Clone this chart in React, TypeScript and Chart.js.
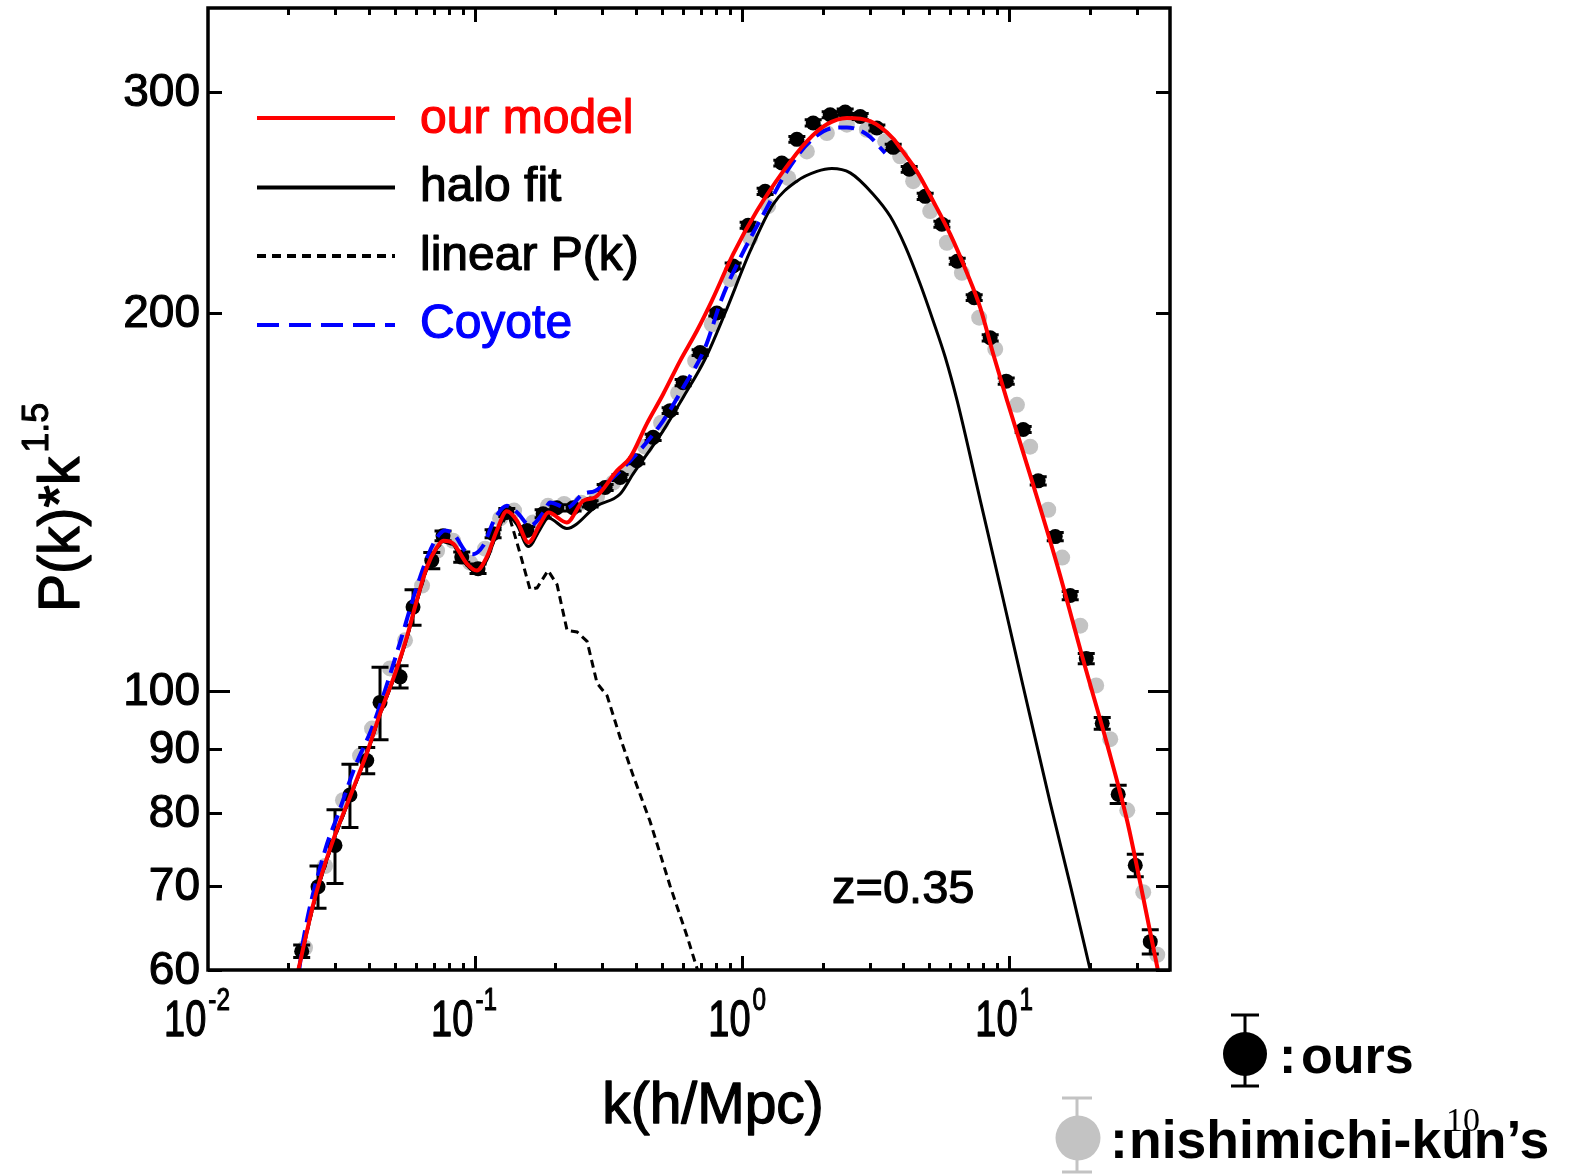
import React, { useEffect, useRef } from "react";
import { Chart, registerables } from "chart.js";

Chart.register(...registerables);

// ---------------- data ----------------
// our model (red)
const modelK = [0.02179, 0.02474, 0.02627, 0.02938, 0.034, 0.0394, 0.04407, 0.05017, 0.05548, 0.06047, 0.06594, 0.07188, 0.07607, 0.08294, 0.09309, 0.1015, 0.1106, 0.1206, 0.1315, 0.1433, 0.1584, 0.1751, 0.1881, 0.2205, 0.2539, 0.2814, 0.3394, 0.3806, 0.4395, 0.5059, 0.5858, 0.6765, 0.77, 0.9254, 1.135, 1.424, 1.747, 2.076, 2.467, 3.016, 3.678, 3.907, 4.511, 5.193, 6.012, 6.943, 7.788, 8.712, 9.829, 12.3, 15.13, 18.93, 23.28, 27.67, 31.76, 36.14];
const modelP = [60.0, 67.6, 70.8, 76.1, 82.4, 89.4, 96.0, 103.3, 110.4, 118.1, 125.5, 130.2, 131.8, 131.1, 126.4, 124.8, 127.9, 134.3, 139.1, 136.8, 131.4, 135.9, 138.8, 136.3, 141.8, 142.7, 149.8, 153.5, 163.3, 172.4, 183.3, 193.6, 204.6, 222.9, 241.2, 259.4, 274.1, 282.8, 286.1, 284.4, 275.5, 270.8, 259.4, 245.6, 231.2, 215.4, 202.1, 185.6, 170.3, 146.0, 126.0, 105.9, 90.7, 78.8, 68.5, 59.8];

// halo fit (black solid)
const haloK = [0.02179, 0.02474, 0.02627, 0.02938, 0.034, 0.0394, 0.04407, 0.05017, 0.05548, 0.06047, 0.06594, 0.07188, 0.07607, 0.08294, 0.09309, 0.1015, 0.1106, 0.1206, 0.1315, 0.1433, 0.1584, 0.1751, 0.1881, 0.2205, 0.2856, 0.3492, 0.3907, 0.5059, 0.6012, 0.7268, 0.8636, 1.0715, 1.306, 1.603, 1.905, 2.168, 2.539, 3.094, 3.584, 4.078, 4.642, 5.193, 5.758, 6.387, 7.788, 9.495, 11.28, 14.24, 17.07, 20.11];
const haloP = [60.0, 67.4, 70.6, 75.9, 82.2, 89.2, 95.8, 103.0, 110.1, 117.8, 125.2, 130.0, 131.6, 130.8, 126.0, 124.3, 127.2, 133.6, 138.2, 135.8, 130.4, 134.6, 137.4, 134.8, 140.5, 143.6, 149.0, 161.2, 171.4, 183.9, 200.1, 224.1, 244.2, 254.8, 259.4, 260.8, 258.7, 248.8, 238.9, 226.2, 211.0, 197.2, 184.6, 170.3, 142.0, 118.4, 100.9, 81.5, 69.6, 60.0];

// linear P(k) (black dotted)
const linearK = [0.02179, 0.02474, 0.02627, 0.02938, 0.034, 0.0394, 0.04407, 0.05017, 0.05548, 0.06047, 0.06594, 0.07188, 0.07607, 0.08294, 0.09309, 0.1015, 0.1106, 0.1206, 0.1315, 0.1353, 0.1475, 0.1607, 0.1707, 0.1876, 0.2028, 0.2211, 0.241, 0.2627, 0.2863, 0.3122, 0.3492, 0.3907, 0.452, 0.5374, 0.6223, 0.684];
const linearP = [60.0, 67.4, 70.6, 75.9, 82.2, 89.2, 95.8, 103.0, 110.1, 117.8, 125.2, 130.0, 131.6, 130.8, 126.0, 124.3, 127.2, 133.6, 138.2, 137.1, 128.7, 120.5, 120.9, 124.8, 121.6, 111.8, 111.5, 109.6, 101.5, 99.2, 91.9, 85.7, 78.8, 70.0, 63.8, 59.8];

// Coyote (blue dashed)
const coyoteK = [0.02195, 0.02275, 0.02742, 0.03076, 0.03553, 0.04102, 0.04601, 0.05238, 0.0596, 0.06668, 0.07206, 0.0772, 0.08417, 0.09174, 0.09829, 0.1072, 0.1188, 0.1315, 0.1437, 0.1607, 0.1803, 0.191, 0.2205, 0.2539, 0.2814, 0.3288, 0.4033, 0.5059, 0.6012, 0.7268, 0.8417, 1.0, 1.219, 1.47, 1.797, 2.192, 2.467, 2.931, 3.433];
const coyoteP = [60.0, 63.4, 74.7, 79.9, 87.1, 93.4, 100.2, 109.4, 119.9, 128.3, 132.6, 134.3, 133.0, 129.4, 128.6, 130.6, 137.3, 140.5, 138.8, 135.5, 138.8, 141.4, 140.0, 143.6, 144.4, 148.0, 154.6, 164.2, 174.5, 187.8, 205.8, 222.9, 241.2, 259.4, 274.1, 280.9, 281.2, 277.6, 268.3];

// ours (black points with error bars)
const oursK = [0.02243, 0.02582, 0.02989, 0.034, 0.0393, 0.04407, 0.05238, 0.05858, 0.06884, 0.07586, 0.08915, 0.1026, 0.1168, 0.1315, 0.1562, 0.1798, 0.2023, 0.2328, 0.2696, 0.3069, 0.3492, 0.4033, 0.4642, 0.5374, 0.6012, 0.696, 0.8037, 0.9254, 1.053, 1.219, 1.408, 1.603, 1.845, 2.136, 2.431, 2.767, 3.195, 3.678, 4.222, 4.846, 5.597, 6.387, 7.393, 8.487, 9.745, 11.28, 12.84, 14.87, 16.92, 19.43, 22.3, 25.59, 29.65, 33.74];
const oursP = [62.1, 69.9, 75.4, 82.7, 88.1, 98.0, 102.7, 116.7, 127.1, 133.0, 127.9, 125.2, 133.5, 138.8, 134.3, 138.5, 140.0, 140.0, 141.0, 145.3, 148.0, 152.6, 159.3, 167.3, 176.1, 186.1, 200.1, 218.1, 235.0, 250.1, 263.4, 275.1, 283.5, 287.8, 289.2, 286.9, 280.9, 271.1, 260.4, 247.8, 235.5, 220.0, 205.8, 191.2, 176.6, 161.6, 147.1, 132.8, 119.2, 106.2, 94.3, 82.8, 72.7, 63.2];
const oursErr = [0.7, 2.7, 5.1, 4.8, 2.1, 6.5, 2.1, 3.8, 1.9, 1.2, 1.2, 1.1, 1.0, 1.0, 1.0, 1.0, 0.8, 0.8, 0.8, 0.8, 0.8, 0.8, 0.9, 0.9, 1.0, 1.0, 1.1, 1.2, 1.3, 1.4, 1.4, 1.5, 1.6, 1.6, 1.6, 1.6, 1.5, 1.5, 1.4, 1.4, 1.3, 1.2, 1.1, 1.1, 1.0, 0.9, 1.1, 1.0, 0.9, 1.0, 1.0, 1.4, 1.5, 1.4];

// nishimichi-kun's (grey points)
const nishiK = [0.02308, 0.02742, 0.03202, 0.0371, 0.04113, 0.04804, 0.05467, 0.06331, 0.07206, 0.08273, 0.09579, 0.109, 0.1241, 0.14, 0.1649, 0.1876, 0.2154, 0.2495, 0.2863, 0.3288, 0.3741, 0.4331, 0.4972, 0.5758, 0.6668, 0.77, 0.9018, 1.0715, 1.251, 1.487, 1.747, 2.076, 2.467, 2.931, 3.433, 3.907, 4.369, 5.06, 5.844, 6.651, 7.72, 8.865, 10.69, 11.98, 14.0, 15.79, 18.45, 21.17, 23.89, 27.67, 31.76, 35.84];
const nishiP = [62.5, 72.6, 81.9, 88.9, 93.4, 104.3, 109.8, 121.4, 129.4, 131.8, 126.6, 129.9, 137.3, 139.3, 136.3, 140.5, 141.0, 141.3, 142.9, 146.6, 150.4, 156.6, 163.6, 172.8, 183.3, 196.0, 212.9, 229.6, 243.4, 256.3, 269.1, 278.3, 282.6, 280.0, 274.1, 266.7, 254.8, 241.2, 227.6, 215.4, 198.4, 187.3, 169.1, 156.6, 139.5, 127.8, 112.8, 101.1, 91.6, 80.4, 69.2, 61.7];

// axes
const xMin = 0.01;
const xMax = 40;
const yMin = 60;
const yMax = 350;
const xTickValues = [0.01, 0.1, 1, 10];
const xTickExps = ["-2", "-1", "0", "1"];
const yTickValues = [60, 70, 80, 90, 100, 200, 300];
const yTickLabels = ["60", "70", "80", "90", "100", "200", "300"];
const yMajorTick = 100;

const legendLabels = ["our model", "halo fit", "linear P(k)", "Coyote"];
const redshiftLabel = "z=0.35";
const xTitle = "k(h/Mpc)";
const yTitle = "P(k)*k";
const yTitleExp = "1.5";
const oursLabel = "ours";
const nishiLabel = "nishimichi-kun\u2019s";
const pageNumber = "10";

// ---------------- styling ----------------
const W = 1569;
const H = 1175;
const SANS = "'Liberation Sans', Arial, Helvetica, sans-serif";
const SERIF = "'Liberation Serif', 'Times New Roman', serif";
const RED = "#ff0000";
const BLUE = "#0000ff";
const GREY = "#c3c3c3";
const OURS_INDEX = 4;

function pts(k: number[], p: number[]) {
  return k.map((x, i) => ({ x, y: p[i] }));
}

function heavyText(ctx: CanvasRenderingContext2D, text: string, x: number, y: number, color: string, lw = 1.1) {
  ctx.fillStyle = color;
  ctx.strokeStyle = color;
  ctx.lineWidth = lw;
  ctx.lineJoin = "round";
  ctx.fillText(text, x, y);
  ctx.strokeText(text, x, y);
}

export default function App() {
  const ref = useRef<HTMLCanvasElement>(null);

  useEffect(() => {
    const canvas = ref.current!;

    const decor = {
      id: "decor",
      beforeDatasetDraw(chart: any, args: any) {
        if (args.index !== OURS_INDEX) return;
        const { ctx, chartArea: a, scales } = chart;
        const xs = scales.x;
        const ys = scales.y;
        ctx.save();
        ctx.beginPath();
        ctx.rect(a.left, a.top, a.right - a.left, a.bottom - a.top);
        ctx.clip();
        ctx.strokeStyle = "#000";
        ctx.lineWidth = 3;
        ctx.beginPath();
        for (let i = 0; i < oursK.length; i++) {
          const px = xs.getPixelForValue(oursK[i]);
          const y1 = ys.getPixelForValue(oursP[i] - oursErr[i]);
          const y2 = ys.getPixelForValue(oursP[i] + oursErr[i]);
          ctx.moveTo(px, y1);
          ctx.lineTo(px, y2);
          ctx.moveTo(px - 8.5, y1);
          ctx.lineTo(px + 8.5, y1);
          ctx.moveTo(px - 8.5, y2);
          ctx.lineTo(px + 8.5, y2);
        }
        ctx.stroke();
        ctx.restore();
      },
      afterDraw(chart: any) {
        const { ctx, chartArea: a, scales } = chart;
        const xs = scales.x;
        const ys = scales.y;
        ctx.save();

        // frame
        ctx.strokeStyle = "#000";
        ctx.lineWidth = 3.5;
        ctx.strokeRect(a.left, a.top, a.right - a.left, a.bottom - a.top);

        // x ticks (inside, bottom and top)
        ctx.lineWidth = 3;
        ctx.beginPath();
        for (const dv of xTickValues) {
          for (let m = 1; m <= 9; m++) {
            const v = m * dv;
            if (v <= xMin || v >= xMax) continue;
            const px = Math.round(xs.getPixelForValue(v)) + 0.5;
            const len = m === 1 ? 14 : 7;
            ctx.moveTo(px, a.bottom);
            ctx.lineTo(px, a.bottom - len);
            ctx.moveTo(px, a.top);
            ctx.lineTo(px, a.top + len);
          }
        }
        // y ticks (inside, left and right)
        for (const v of yTickValues) {
          const py = Math.round(ys.getPixelForValue(v)) + 0.5;
          const len = v === yMajorTick ? 22 : 14;
          ctx.moveTo(a.left, py);
          ctx.lineTo(a.left + len, py);
          ctx.moveTo(a.right, py);
          ctx.lineTo(a.right - len, py);
        }
        ctx.stroke();

        // y tick labels
        ctx.font = `46px ${SANS}`;
        ctx.textAlign = "right";
        ctx.textBaseline = "middle";
        yTickValues.forEach((v, i) => {
          heavyText(ctx, yTickLabels[i], 200, ys.getPixelForValue(v) + 1, "#000");
        });

        // x tick labels 10^n (condensed)
        ctx.textAlign = "left";
        ctx.textBaseline = "alphabetic";
        const sx = 0.76;
        xTickValues.forEach((v, i) => {
          const px = xs.getPixelForValue(v);
          ctx.font = `50px ${SANS}`;
          const wb = ctx.measureText("10").width * sx;
          ctx.font = `32px ${SANS}`;
          const we = ctx.measureText(xTickExps[i]).width * sx;
          const neg = xTickExps[i].startsWith("-");
          const start = px - 5 - (neg ? 6 : 0) - (wb + we + 2) / 2;
          ctx.save();
          ctx.translate(start, 1036);
          ctx.scale(sx, 1);
          ctx.font = `50px ${SANS}`;
          heavyText(ctx, "10", 0, 0, "#000", 1.3);
          ctx.restore();
          ctx.save();
          ctx.translate(start + wb + 2, 1010);
          ctx.scale(sx, 1);
          ctx.font = `32px ${SANS}`;
          heavyText(ctx, xTickExps[i], 0, 0, "#000", 1.1);
          ctx.restore();
        });

        // x title
        ctx.font = `57px ${SANS}`;
        ctx.textAlign = "center";
        heavyText(ctx, xTitle, 713, 1123, "#000", 1.3);

        // y title (rotated)
        ctx.save();
        ctx.translate(79, 612);
        ctx.rotate(-Math.PI / 2);
        ctx.textAlign = "left";
        ctx.font = `57px ${SANS}`;
        heavyText(ctx, yTitle, 0, 0, "#000", 1.3);
        const tw = ctx.measureText(yTitle).width;
        ctx.font = `36px ${SANS}`;
        heavyText(ctx, yTitleExp, tw + 4, -31, "#000", 1.1);
        ctx.restore();

        // legend inside the plot
        const legendColors = [RED, "#000", "#000", BLUE];
        const legendDash = [[], [], [9, 6], [22, 10]];
        const lineY = [118, 187.5, 256, 325];
        const textY = [133, 201, 270, 338];
        for (let i = 0; i < 4; i++) {
          ctx.beginPath();
          ctx.strokeStyle = legendColors[i];
          ctx.lineWidth = 4;
          ctx.setLineDash(legendDash[i]);
          ctx.moveTo(257, lineY[i]);
          ctx.lineTo(395, lineY[i]);
          ctx.stroke();
          ctx.setLineDash([]);
          ctx.font = `48px ${SANS}`;
          ctx.textAlign = "left";
          heavyText(ctx, legendLabels[i], 420, textY[i], legendColors[i], 1.2);
        }

        // redshift label
        ctx.font = `47px ${SANS}`;
        heavyText(ctx, redshiftLabel, 832, 903, "#000", 1.1);

        // external legend: ours
        ctx.strokeStyle = "#000";
        ctx.lineWidth = 3;
        ctx.beginPath();
        ctx.moveTo(1245, 1015);
        ctx.lineTo(1245, 1086);
        ctx.moveTo(1231, 1015);
        ctx.lineTo(1259, 1015);
        ctx.moveTo(1231, 1086);
        ctx.lineTo(1259, 1086);
        ctx.stroke();
        ctx.fillStyle = "#000";
        ctx.beginPath();
        ctx.arc(1245, 1054, 22, 0, Math.PI * 2);
        ctx.fill();
        ctx.font = `bold 52px ${SANS}`;
        ctx.fillText(":", 1279, 1073);
        ctx.fillText(oursLabel, 1301, 1073);

        // external legend: nishimichi
        ctx.strokeStyle = GREY;
        ctx.lineWidth = 3;
        ctx.beginPath();
        ctx.moveTo(1077, 1098);
        ctx.lineTo(1077, 1172);
        ctx.moveTo(1062, 1098);
        ctx.lineTo(1092, 1098);
        ctx.moveTo(1062, 1172);
        ctx.lineTo(1092, 1172);
        ctx.stroke();
        ctx.fillStyle = GREY;
        ctx.beginPath();
        ctx.arc(1078, 1138, 22.5, 0, Math.PI * 2);
        ctx.fill();
        ctx.fillStyle = "#000";
        ctx.font = `bold 53.5px ${SANS}`;
        ctx.fillText(":", 1110, 1158);
        ctx.fillText(nishiLabel, 1129, 1158);

        // page number
        ctx.font = `34px ${SERIF}`;
        ctx.fillText(pageNumber, 1446, 1131);

        ctx.restore();
      },
    };

    const chart = new Chart(canvas, {
      type: "scatter",
      data: {
        datasets: [
          {
            label: "our model",
            data: pts(modelK, modelP),
            showLine: true,
            borderColor: RED,
            borderWidth: 4,
            pointRadius: 0,
            cubicInterpolationMode: "monotone",
            order: 1,
          } as any,
          {
            label: "Coyote",
            data: pts(coyoteK, coyoteP),
            showLine: true,
            borderColor: BLUE,
            borderWidth: 4,
            borderDash: [16, 8],
            pointRadius: 0,
            cubicInterpolationMode: "monotone",
            order: 2,
          },
          {
            label: "halo fit",
            data: pts(haloK, haloP),
            showLine: true,
            borderColor: "#000",
            borderWidth: 3,
            pointRadius: 0,
            cubicInterpolationMode: "monotone",
            order: 3,
          },
          {
            label: "linear P(k)",
            data: pts(linearK, linearP),
            showLine: true,
            borderColor: "#000",
            borderWidth: 3,
            borderDash: [8, 5],
            pointRadius: 0,
            tension: 0,
            order: 4,
          },
          {
            label: "ours",
            data: pts(oursK, oursP),
            pointRadius: 7.5,
            pointBackgroundColor: "#000",
            pointBorderWidth: 0,
            order: 5,
          },
          {
            label: "nishimichi-kun's",
            data: pts(nishiK, nishiP),
            pointRadius: 8,
            pointBackgroundColor: GREY,
            pointBorderWidth: 0,
            order: 6,
          },
        ],
      },
      options: {
        responsive: false,
        animation: false,
        devicePixelRatio: 1,
        events: [],
        layout: { padding: { left: 208, top: 8, right: W - 1170, bottom: H - 970 } },
        plugins: { legend: { display: false }, tooltip: { enabled: false } },
        scales: {
          x: { type: "logarithmic", min: xMin, max: xMax, bounds: "data", display: false },
          y: { type: "logarithmic", min: yMin, max: yMax, bounds: "data", display: false },
        },
      } as any,
      plugins: [decor],
    });

    return () => chart.destroy();
  }, []);

  return (
    <div style={{ position: "absolute", left: 0, top: 0, width: W, height: H, background: "#fff" }}>
      <canvas ref={ref} width={W} height={H} style={{ width: W, height: H, display: "block" }} />
    </div>
  );
}
